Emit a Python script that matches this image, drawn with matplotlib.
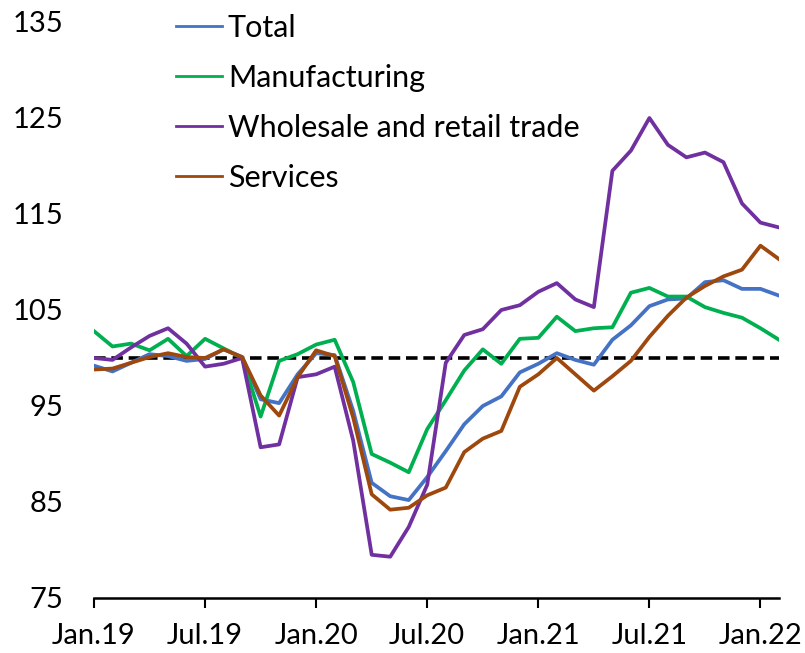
import matplotlib
matplotlib.use("Agg")
import matplotlib.pyplot as plt

months = list(range(38))  # Jan.19 .. Feb.22
tick_pos = [0, 6, 12, 18, 24, 30, 36]
tick_labels = ['Jan.19', 'Jul.19', 'Jan.20', 'Jul.20', 'Jan.21', 'Jul.21', 'Jan.22']

total = [99.2, 98.6, 99.5, 100.4, 100.2, 99.7, 99.9, 100.9, 100.1, 95.7, 95.3, 98.3,
         100.5, 100.3, 94.5, 87.0, 85.6, 85.2, 87.6, 90.3, 93.1, 95.0, 96.0, 98.5,
         99.4, 100.5, 99.8, 99.3, 101.9, 103.4, 105.4, 106.1, 106.2, 107.9, 108.1, 107.2,
         107.2, 106.5]
manufacturing = [102.8, 101.2, 101.5, 100.8, 102.0, 100.2, 102.0, 101.0, 100.0, 93.9, 99.7, 100.4,
                 101.4, 101.9, 97.5, 90.0, 89.1, 88.1, 92.6, 95.6, 98.7, 100.9, 99.4, 102.0,
                 102.1, 104.3, 102.8, 103.1, 103.2, 106.8, 107.3, 106.4, 106.4, 105.3, 104.7, 104.2,
                 103.1, 101.9]
wholesale = [100.0, 99.8, 101.1, 102.3, 103.1, 101.5, 99.1, 99.4, 100.0, 90.7, 91.0, 98.0,
             98.3, 99.1, 91.4, 79.5, 79.3, 82.4, 86.8, 99.5, 102.4, 103.0, 105.0, 105.5,
             106.9, 107.8, 106.1, 105.3, 119.5, 121.6, 125.0, 122.2, 120.9, 121.4, 120.4, 116.1,
             114.1, 113.6]
services = [98.8, 98.9, 99.5, 100.1, 100.5, 100.1, 100.0, 100.9, 100.1, 96.1, 94.0, 98.0,
            100.8, 100.2, 93.8, 85.8, 84.2, 84.4, 85.7, 86.5, 90.2, 91.6, 92.4, 97.0,
            98.3, 100.0, 98.3, 96.6, 98.1, 99.7, 102.2, 104.4, 106.3, 107.5, 108.5, 109.2,
            111.7, 110.3]
baseline = [100] * len(months)

plt.rcParams['font.family'] = ['Lato', 'DejaVu Sans']

fig = plt.figure(figsize=(8.05, 6.53), dpi=100)
ax = fig.add_axes([94/805, 1 - 598/653, (779 - 94)/805, (598 - 22)/653])

ax.plot(months, baseline, color='black', lw=2.6, ls=(0, (3.2, 1.6)))
ax.plot(months, total, color='#4472C4', lw=2.7, label='Total')
ax.plot(months, manufacturing, color='#00B050', lw=2.7, label='Manufacturing')
ax.plot(months, wholesale, color='#7030A0', lw=2.7, label='Wholesale and retail trade')
ax.plot(months, services, color='#9E480E', lw=2.7, label='Services')

ax.set_xlim(0, 37)
ax.set_ylim(75, 135)
ax.set_yticks([75, 85, 95, 105, 115, 125, 135])
ax.set_xticks(tick_pos)
ax.set_xticklabels(tick_labels)

for s in ['top', 'right', 'left']:
    ax.spines[s].set_visible(False)
ax.spines['bottom'].set_linewidth(1.8)
ax.tick_params(axis='x', direction='out', length=7, width=1.5, labelsize=21, pad=11)
ax.tick_params(axis='y', length=0, labelsize=21, pad=22)

leg = ax.legend(loc='upper left', bbox_to_anchor=(176/805, 1 - 14/653),
                bbox_transform=fig.transFigure, frameon=False, fontsize=22,
                handlelength=1.5, handletextpad=0.2, labelspacing=0.72, borderpad=0,
                borderaxespad=0)
for line in leg.get_lines():
    line.set_linewidth(2)

plt.savefig('out.png', dpi=100)
